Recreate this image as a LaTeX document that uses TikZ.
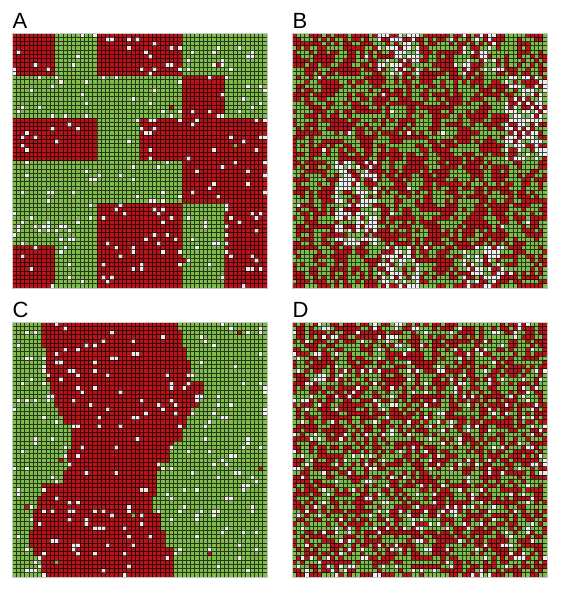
\documentclass[tikz,border=0pt]{standalone}
\usepackage{fontspec}
\setmainfont{Liberation Sans}

\definecolor{cellred}{RGB}{184,20,26}
\definecolor{cellgreen}{RGB}{128,188,76}
\definecolor{cellwhite}{RGB}{238,238,238}

\tikzset{
  gridline/.style={line width=1pt, draw=black, opacity=0.7},
  panelframe/.style={line width=0.9pt, draw=gray!45},
  panellabel/.style={anchor=base west, inner sep=0pt, font=\fontsize{22}{26}\selectfont},
}

% share of white cells in the blocks of panel B
\pgfkeys{/whiteblk/.cd, 20/.initial=0.45, 40/.initial=0.28, 51/.initial=0.48,
  52/.initial=0.48, 13/.initial=0.48, 14/.initial=0.48, 25/.initial=0.42, 45/.initial=0.42}

% scattered white cells (and a few strays) over a 60x60 panel
\newcommand{\cellspecks}{%
  \foreach \i in {0,...,59}{\foreach \j in {0,...,59}{%
    \pgfmathsetmacro\u{rnd}%
    \ifdim\u pt<0.06pt \fill[cellwhite] (\i,\j) rectangle ++(1,1);%
    \else\ifdim\u pt<0.063pt \fill[cellred] (\i,\j) rectangle ++(1,1);%
    \else\ifdim\u pt<0.066pt \fill[cellgreen] (\i,\j) rectangle ++(1,1);%
    \fi\fi\fi
  }}%
}
\newcommand{\panelgrid}{%
  \draw[gridline] \foreach \k in {0,...,60}{(\k,0) -- (\k,60) (0,\k) -- (60,\k)};
  \draw[panelframe] (0,0) rectangle (60,60);
}

\begin{document}
\begin{tikzpicture}[x=1pt,y=-1pt]
  \useasboundingbox (0,0) rectangle (564,592);
  \pgfmathsetseed{4127}

  % Labels
  \node[panellabel] (labA) at (12.5,28) {A};
  \node[panellabel] (labB) at (292.5,28) {B};
  \node[panellabel] (labC) at (12.5,317) {C};
  \node[panellabel] (labD) at (292.5,317) {D};

  % A: blocks of 10x10 cells
  \begin{scope}[shift={(12pt,-33pt)}, x=4.25pt, y=-4.25pt]
    \fill[cellgreen] (0,0) rectangle (60,60);
    \foreach \bc/\br in {0/0,2/0,3/0,4/1,0/2,1/2,3/2,4/2,5/2,4/3,5/3,2/4,3/4,5/4,0/5,2/5,3/5,5/5}
      \fill[cellred] (10*\bc,10*\br) rectangle ++(10,10);
    \cellspecks
    \panelgrid
  \end{scope}

  % B: mixed cells, white patches
  \begin{scope}[shift={(292pt,-33pt)}, x=4.25pt, y=-4.25pt]
    \fill[cellgreen] (0,0) rectangle (60,60);
    \foreach \i in {0,...,59}{\foreach \j in {0,...,59}{%
      \pgfmathtruncatemacro\blk{10*int(\i/10)+int(\j/10)}%
      \pgfkeysifdefined{/whiteblk/\blk}{\pgfkeysgetvalue{/whiteblk/\blk}\pw}{\def\pw{0.008}}%
      \pgfmathsetmacro\u{rnd}%
      \ifdim\u pt<\pw pt \fill[cellwhite] (\i,\j) rectangle ++(1,1);%
      \else
        \pgfmathsetmacro\bias{0.5+0.14*(sin(47*\i+31*\j)+sin(53*\j-29*\i+40)+sin(61*\i-13*\j+100))}%
        \pgfmathsetmacro\v{rnd}%
        \ifdim\v pt<\bias pt \fill[cellred] (\i,\j) rectangle ++(1,1);\fi
      \fi
    }}
    \panelgrid
  \end{scope}

  % C: red band between green sides
  \begin{scope}[shift={(12pt,-322pt)}, x=4.25pt, y=-4.25pt]
    \fill[cellgreen] (0,0) rectangle (60,60);
    \fill[cellred] (7,0) -- (39,0) |- (40,2) |- (41,6) |- (42,9) |- (45,14) |- (44,17)
      |- (42,20) |- (41,22) |- (40,25) |- (38,28) |- (37,30) |- (35,33) |- (34,35)
      |- (33,41) |- (35,45) |- (36,49) |- (38,53) |- (38,60) -- (7,60)
      |- (5,55) |- (4,53) |- (5,49) |- (6,44) |- (7,41) |- (12,38) |- (13,35)
      |- (14,30) |- (12,24) |- (11,22) |- (10,20) |- (9,17) |- (8,14) |- (7,6) |- (7,0) -- cycle;
    \cellspecks
    \panelgrid
  \end{scope}

  % D: random cells
  \begin{scope}[shift={(292pt,-322pt)}, x=4.25pt, y=-4.25pt]
    \fill[cellgreen] (0,0) rectangle (60,60);
    \foreach \i in {0,...,59}{\foreach \j in {0,...,59}{%
      \pgfmathsetmacro\u{rnd}%
      \ifdim\u pt<0.1pt \fill[cellwhite] (\i,\j) rectangle ++(1,1);%
      \else\ifdim\u pt<0.55pt \fill[cellred] (\i,\j) rectangle ++(1,1);\fi\fi
    }}
    \panelgrid
  \end{scope}
\end{tikzpicture}
\end{document}
